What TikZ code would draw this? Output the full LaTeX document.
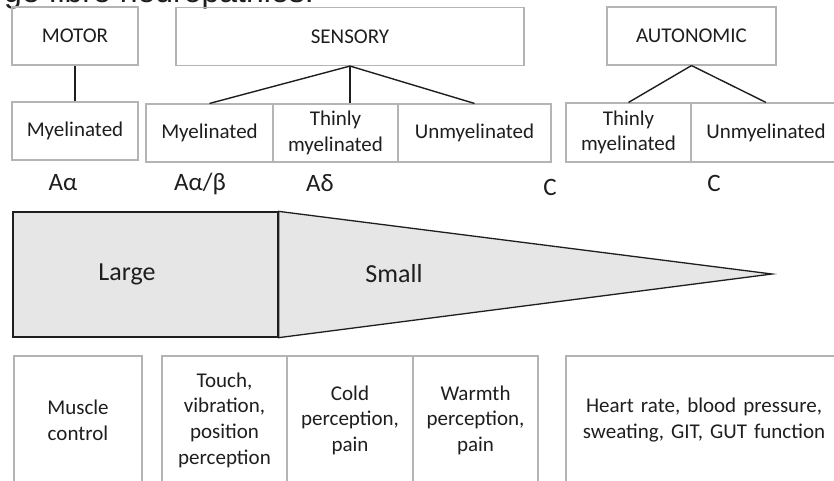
\documentclass[tikz,border=0pt]{standalone}
\usepackage{fontspec}
\setmainfont{Carlito}
\newfontfamily\titlefont{Liberation Sans}
\definecolor{boxgray}{HTML}{B4B4B4}
\definecolor{shapefill}{HTML}{E6E6E6}
\definecolor{ink}{HTML}{1E1E1E}
\tikzset{
  txt/.style={font=\fontsize{21}{25.6}\selectfont, text=ink, align=center, inner sep=0pt},
  fbox/.style={txt, draw=boxgray, line width=1.1pt},
  conn/.style={draw=ink, line width=1.6pt},
  lbl/.style={txt, font=\fontsize{25}{30}\selectfont},
  shapeline/.style={draw=ink, line width=1.3pt, fill=shapefill, line join=miter}
}
\begin{document}
\begin{tikzpicture}[x=1pt,y=-1pt]
\useasboundingbox (0,0) rectangle (834,480);
% partially visible title
\node[font=\titlefont\fontsize{32}{38}\selectfont, text=ink, anchor=base east, inner sep=0pt] (title) at (314,2.5) {Large fibre neuropathies.};
% top level
\node[fbox, minimum width=126pt, minimum height=58pt] (motor) at (75,36) {MOTOR};
\node[fbox, minimum width=348pt, minimum height=58pt] (sens) at (350,36.5) {SENSORY};
\node[fbox, minimum width=169pt, minimum height=58pt] (auto) at (691.5,36) {AUTONOMIC};
% fibre types
\node[fbox, minimum width=126pt, minimum height=58pt] (mm) at (75,131) {Myelinated};
\node[fbox, minimum width=127pt, minimum height=58pt] (s1) at (209.5,133) {Myelinated};
\node[fbox, minimum width=125pt, minimum height=58pt] (s2) at (335.5,133) {Thinly\\myelinated};
\node[fbox, minimum width=153pt, minimum height=58pt] (s3) at (474.5,133) {Unmyelinated};
\node[fbox, minimum width=125pt, minimum height=59pt] (a1) at (628.5,132.5) {Thinly\\myelinated};
\node[fbox, minimum width=150pt, minimum height=59pt] (a2) at (766,132.5) {Unmyelinated};
% connectors
\draw[conn] (motor.south) -- (mm.north);
\draw[conn, line width=1.4pt] (sens.south) -- (s1.north);
\draw[conn, line width=1.4pt] (sens.south) -- (sens.south |- s2.north);
\draw[conn, line width=1.4pt] (sens.south) -- (s3.north);
\draw[conn, line width=1.4pt] (auto.south) -- (a1.north);
\draw[conn, line width=1.4pt] (auto.south) -- (a2.north);
% fibre labels
\node[lbl] (l1) at (63,183) {Aα};
\node[lbl] (l2) at (200,184) {Aα/β};
\node[lbl] (l3) at (320,183) {Aδ};
\node[lbl] (l4) at (550,187) {C};
\node[lbl] (l5) at (714,183) {C};
% size shape
\node[shapeline, draw, minimum width=265pt, minimum height=125pt, inner sep=0pt] (large) at (145.5,274.5) {};
\coordinate (tip) at (772,274);
\draw[shapeline] (large.north east) -- (tip) -- (large.south east) -- cycle;
\node[txt, font=\fontsize{26}{30}\selectfont] (largetxt) at (127,274) {Large};
\node[txt, font=\fontsize{26}{30}\selectfont] (smalltxt) at (394,274) {Small};
% functions
\node[fbox, minimum width=128pt, minimum height=128pt] (f0) at (78,420) {Muscle\\control};
\node[fbox, minimum width=125pt, minimum height=128pt] (f1) at (224.5,420) {Touch,\\vibration,\\position\\perception};
\node[fbox, minimum width=126pt, minimum height=128pt] (f2) at (350,420) {Cold\\perception,\\pain};
\node[fbox, minimum width=125pt, minimum height=128pt] (f3) at (475.5,420) {Warmth\\perception,\\pain};
\node[fbox, minimum width=276pt, minimum height=128pt, text width=270pt] (f4) at (704,420) {Heart rate, blood pressure,\\sweating, GIT, GUT function};
\end{tikzpicture}
\end{document}
